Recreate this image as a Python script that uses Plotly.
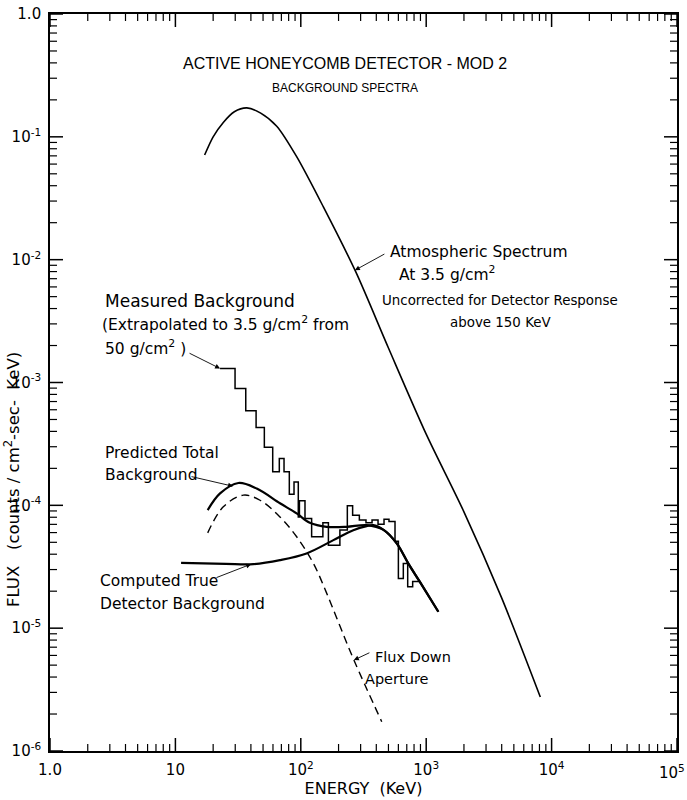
import numpy as np
import plotly.graph_objects as go

# ---------------- data ----------------
atm_energy = [17.1, 20, 24.1, 29.5, 37.1, 47.9, 64.3, 92.7, 151, 274, 501, 1000, 1995, 3981, 8128]
atm_flux = [0.0711, 0.100, 0.131, 0.160, 0.172, 0.156, 0.122, 0.0689, 0.027, 0.00798, 0.0019,
            3.8e-4, 8.9e-5, 1.78e-5, 2.75e-6]

total_energy = [18.1, 22.7, 31.8, 44.5, 68.2, 92.7, 118, 161, 232, 335, 457, 582, 719, 891, 1250]
total_flux = [9.14e-5, 1.25e-4, 1.52e-4, 1.37e-4, 1.04e-4, 8.59e-5, 7.21e-5, 6.68e-5, 6.68e-5,
              6.90e-5, 6.31e-5, 4.90e-5, 3.37e-5, 2.38e-5, 1.36e-5]

true_energy = [11.1, 25.1, 41.8, 68.2, 111, 182, 262, 335, 378, 457, 582, 719, 891, 1250]
true_flux = [3.40e-5, 3.34e-5, 3.32e-5, 3.58e-5, 4.06e-5, 5.21e-5, 6.28e-5, 6.78e-5, 6.90e-5,
             6.31e-5, 4.90e-5, 3.37e-5, 2.38e-5, 1.36e-5]

aperture_energy = [18.1, 24.1, 34.8, 47.3, 68.2, 92.7, 126, 161, 206, 265, 442]
aperture_flux = [5.97e-5, 9.73e-5, 1.21e-4, 1.10e-4, 8.05e-5, 5.55e-5, 3.37e-5, 1.92e-5,
                 1.03e-5, 5.50e-6, 1.73e-6]

hist_edges = [22.7, 29.9, 36.4, 44, 51.2, 59.7, 67.4, 73.5, 81, 88.3, 95.5, 97.5, 108, 122, 150,
              166, 205, 235, 259, 293, 331, 370, 413, 461, 505, 564, 600, 657, 712, 780, 893]
hist_values = [1.30e-3, 8.95e-4, 5.89e-4, 4.31e-4, 2.97e-4, 1.88e-4, 2.41e-4, 1.88e-4, 1.23e-4,
               1.55e-4, 8.05e-5, 1.09e-4, 7.8e-5, 5.54e-5, 7.2e-5, 4.74e-5, 6.3e-5, 9.9e-5,
               8.3e-5, 7.6e-5, 7.2e-5, 7.6e-5, 7.0e-5, 7.7e-5, 7.4e-5, 5.1e-5, 2.54e-5, 3.36e-5,
               2.17e-5, 2.4e-5]

x_tickvals = [1, 10, 100, 1e3, 1e4, 1e5]
x_ticktext = ["1.0", "10", "10<sup>2</sup>", "10<sup>3</sup>", "10<sup>4</sup>", "10<sup>5</sup>"]
y_tickvals = [1e-6, 1e-5, 1e-4, 1e-3, 1e-2, 1e-1, 1]
y_ticktext = ["10<sup>-6</sup>", "10<sup>-5</sup>", "10<sup>-4</sup>", "10<sup>-3</sup>",
              "10<sup>-2</sup>", "10<sup>-1</sup>", "1.0"]
x_minor = [m * 10 ** k for k in range(0, 5) for m in range(2, 10)]
y_minor = [m * 10.0 ** k for k in range(-6, 0) for m in range(2, 10)]

# ---------------- figure ----------------
FONT = "DejaVu Sans, sans-serif"
LIB = "Liberation Sans, Arial, sans-serif"
W, H = 687, 800
ML, MR, MT, MB = 50, 10, 14, 49
PW, PH = W - ML - MR, H - MT - MB
X_LOG = [0, 5]
Y_LOG = [-6, 0]
PPD_X = PW / (X_LOG[1] - X_LOG[0])   # pixels per decade
PPD_Y = PH / (Y_LOG[1] - Y_LOG[0])


def paper(px, py):
    return (px - ML) / PW, (H - MB - py) / PH


fig = go.Figure()


# inward tick marks on all four sides, built from the tick value lists
def tick_lines(vals, length, width, on_x, color="black"):
    xs, ys = [], []
    lo_x, hi_x = 10.0 ** X_LOG[0], 10.0 ** X_LOG[1]
    lo_y, hi_y = 10.0 ** Y_LOG[0], 10.0 ** Y_LOG[1]
    for v in vals:
        if on_x:
            dy = 10 ** (length / PPD_Y)
            xs += [v, v, None, v, v, None]
            ys += [lo_y, lo_y * dy, None, hi_y, hi_y / dy, None]
        else:
            dx = 10 ** (length / PPD_X)
            xs += [lo_x, lo_x * dx, None, hi_x, hi_x / dx, None]
            ys += [v, v, None, v, v, None]
    fig.add_trace(go.Scatter(x=xs, y=ys, mode="lines", hoverinfo="skip", connectgaps=False,
                             line=dict(color=color, width=width)))


tick_lines(x_tickvals, 13, 1.5, True)
tick_lines(x_minor, 7, 1.2, True)
tick_lines(y_tickvals, 13, 1.5, False)
tick_lines(y_minor, 7, 1.2, False)

fig.add_trace(go.Scatter(x=atm_energy, y=atm_flux, mode="lines",
                         line=dict(color="black", width=1.6, shape="spline", smoothing=0.8)))
fig.add_trace(go.Scatter(x=total_energy, y=total_flux, mode="lines",
                         line=dict(color="black", width=2.2, shape="spline")))
fig.add_trace(go.Scatter(x=true_energy, y=true_flux, mode="lines",
                         line=dict(color="black", width=2.2, shape="spline")))
fig.add_trace(go.Scatter(x=aperture_energy, y=aperture_flux, mode="lines",
                         line=dict(color="black", width=1.4, dash="8px,5px", shape="spline")))
fig.add_trace(go.Scatter(x=hist_edges, y=hist_values + [hist_values[-1]], mode="lines",
                         line=dict(color="black", width=1.5, shape="hv")))

axis = dict(showline=True, linecolor="black", linewidth=1.6, mirror=True, ticks="",
            showgrid=False, zeroline=False, automargin=False,
            tickfont=dict(family=FONT, size=15, color="black"))
fig.update_layout(
    xaxis=dict(type="log", range=X_LOG, tickmode="array", tickvals=x_tickvals[:-1],
               ticktext=x_ticktext[:-1], ticklabelstandoff=4,
               title=dict(text="ENERGY  (KeV)", font=dict(family=FONT, size=16, color="black"), standoff=2),
               **axis),
    yaxis=dict(type="log", range=Y_LOG, tickmode="array", tickvals=y_tickvals, ticktext=y_ticktext,
               ticklabelstandoff=4, **axis),
)

ann = []


def text(s, px, py, size=16, anchor="left", family=FONT):
    x, y = paper(px, py)
    ann.append(dict(text=s, x=x, y=y, xref="paper", yref="paper", showarrow=False, xanchor=anchor,
                    yanchor="middle", font=dict(family=family, size=size, color="black")))


# last x tick label kept inside the page (right-aligned at the edge)
text(x_ticktext[-1], 687, 772, 15, "right")

text("ACTIVE HONEYCOMB DETECTOR - MOD 2", 345, 63, 16, "center", LIB)
text("BACKGROUND SPECTRA", 345, 88, 12, "center", LIB)
text("Atmospheric Spectrum", 388, 252, 15.5)
text("At 3.5 g/cm<sup>2</sup>", 447, 274, 15.5, "center")
text("Uncorrected for Detector Response", 500, 300, 13.4, "center")
text("above 150 KeV", 500, 322, 13.4, "center")
text("Measured Background", 103, 301, 17)
text("(Extrapolated to 3.5 g/cm<sup>2</sup> from", 100, 323, 15.5)
text("50 g/cm<sup>2</sup> )", 103, 347, 15.5)
text("Predicted Total", 103, 453, 15.5)
text("Background", 103, 475, 15.5)
text("Computed True", 98, 581, 15.5)
text("Detector Background", 98, 604, 15.5)
text("Flux Down", 373, 657, 14.5)
text("Aperture", 363, 679, 14.5)

yx, yy = paper(12, 480)
ann.append(dict(text="FLUX   (counts / cm<sup>2</sup>-sec-  KeV)", x=yx, y=yy, xref="paper", yref="paper",
                showarrow=False, textangle=-90, xanchor="center", yanchor="middle",
                font=dict(family=FONT, size=16.5, color="black")))


def arrow(e, f, ax, ay):
    ann.append(dict(text="", x=np.log10(e), y=np.log10(f), xref="x", yref="y", showarrow=True,
                    ax=ax, ay=ay, arrowhead=2, arrowsize=1.1, arrowwidth=0.9, arrowcolor="black"))


arrow(270, 8.2e-3, 31, -17)
arrow(hist_edges[0], hist_values[0], -32, -16)
arrow(28.8, 1.43e-4, -43, -10)
arrow(40.1, 3.32e-5, -36, 14)
arrow(265, 5.5e-6, 17, -8)

fig.update_layout(width=W, height=H, margin=dict(l=ML, r=MR, t=MT, b=MB, autoexpand=False),
                  plot_bgcolor="white", paper_bgcolor="white", showlegend=False, annotations=ann,
                  font=dict(family=FONT, color="black"))
fig.write_html("out.html")
